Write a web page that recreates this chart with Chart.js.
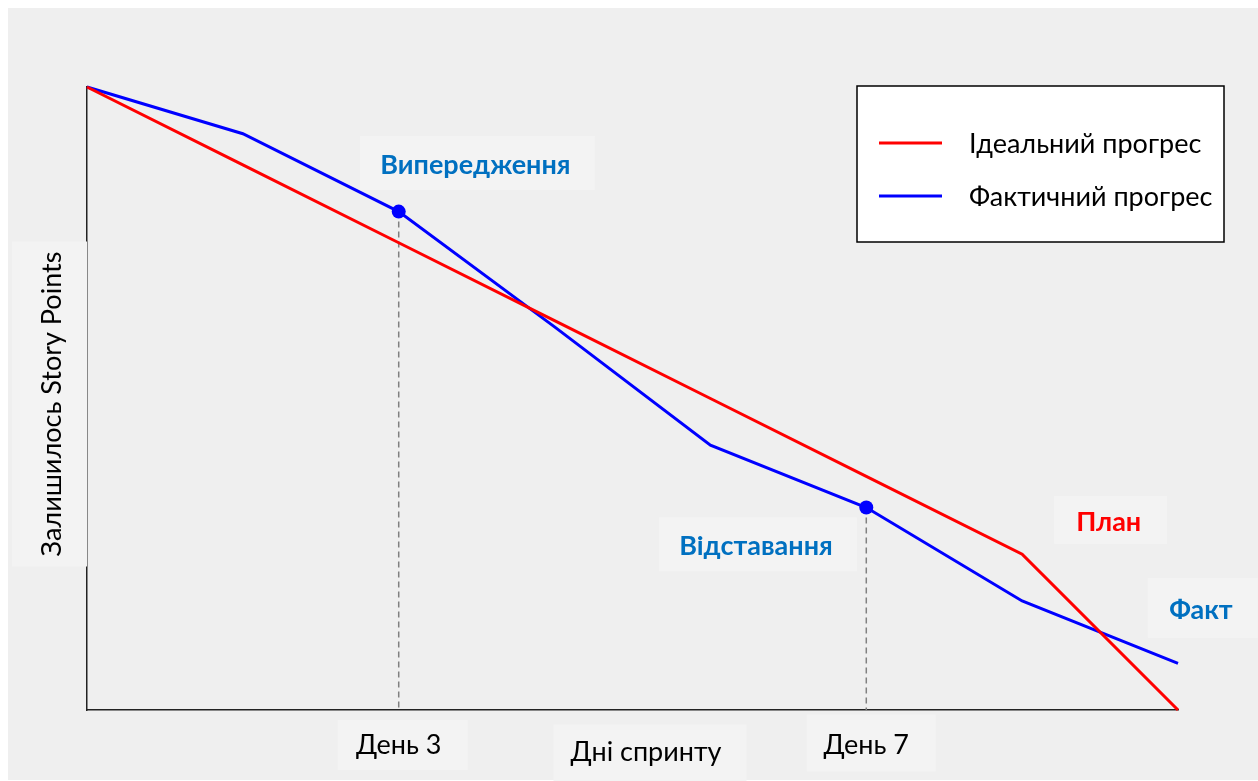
<!DOCTYPE html>
<html lang="uk">
<head>
<meta charset="utf-8">
<title>Burndown</title>
<script src="https://cdn.jsdelivr.net/npm/chart.js@4.4.1/dist/chart.umd.min.js"></script>
<style>
  html, body { margin: 0; padding: 0; background: #ffffff; }
  #wrap { width: 1258px; height: 781px; position: relative; }
</style>
</head>
<body>
<div id="wrap"><canvas id="burndown" width="1258" height="781"></canvas></div>
<script>
// Sprint days (only two of them carry a visible label)
const days = ['', '', 'День 3', '', '', 'День 7', '', ''];
// Remaining story points, in percent of the sprint scope
const idealRemaining  = [100, 87.5, 75, 62.5, 50, 37.5, 25, 0];
const actualRemaining = [100, 92.5, 80, 61.5, 42.5, 32.5, 17.5, 7.5];
const seriesNames = ['Ідеальний прогрес', 'Фактичний прогрес'];
// Days that get a marker and a drop line to the axis
const markedDays = [2, 5];

const FONT = 'Lato, "Open Sans", "DejaVu Sans", sans-serif';
const FS = 27;
const BG = '#efefef';
const BOX = '#f3f3f3';
const BLUE_TEXT = '#0070c0';

// Callouts anchored in data space (x = day index, y = points)
const callouts = [
  { text: 'Випередження', color: BLUE_TEXT, x: 2.505, y: 87.8, w: 235, h: 54 },
  { text: 'Відставання',  color: BLUE_TEXT, x: 4.305, y: 26.6, w: 198, h: 54 },
  { text: 'План',         color: '#ff0000', x: 6.568, y: 30.5, w: 113, h: 48 },
  { text: 'Факт',         color: BLUE_TEXT, x: 7.16,  y: 16.4, w: 110, h: 60 }
];

function fillBox(ctx, cx, cy, w, h) {
  ctx.fillStyle = BOX;
  ctx.fillRect(cx - w / 2, cy - h / 2, w, h);
}

const decor = {
  id: 'decor',
  beforeDraw(chart) {
    const { ctx } = chart;
    const x = chart.scales.x;
    ctx.save();
    ctx.fillStyle = '#ffffff';
    ctx.fillRect(0, 0, chart.width, chart.height);
    ctx.fillStyle = BG;
    ctx.fillRect(8, 8, chart.width - 8, chart.height - 9);
    // backdrops behind the day labels
    fillBox(ctx, x.getPixelForValue(2) + 4, 745, 130, 50);
    fillBox(ctx, x.getPixelForValue(5) + 5, 743, 129, 57);
    ctx.restore();
  },
  beforeDatasetsDraw(chart) {
    const { ctx, chartArea } = chart;
    const x = chart.scales.x, y = chart.scales.y;
    ctx.save();
    ctx.strokeStyle = '#808080';
    ctx.lineWidth = 1.5;
    ctx.setLineDash([6, 4]);
    markedDays.forEach(i => {
      const px = x.getPixelForValue(i);
      ctx.beginPath();
      ctx.moveTo(px, y.getPixelForValue(actualRemaining[i]));
      ctx.lineTo(px, chartArea.bottom);
      ctx.stroke();
    });
    ctx.restore();
  },
  afterDatasetsDraw(chart) {
    const { ctx } = chart;
    const x = chart.scales.x, y = chart.scales.y;
    ctx.save();
    ctx.font = 'bold ' + FS + 'px ' + FONT;
    ctx.textAlign = 'center';
    ctx.textBaseline = 'middle';
    callouts.forEach(c => {
      const cx = x.getPixelForValue(c.x), cy = y.getPixelForValue(c.y);
      fillBox(ctx, cx, cy, c.w, c.h);
      ctx.fillStyle = c.color;
      ctx.fillText(c.text, cx - 2, cy + 2);
    });
    ctx.restore();
  },
  afterDraw(chart) {
    const { ctx } = chart;
    ctx.save();
    // y axis title with its backdrop (covers part of the axis line)
    const ty = 404;
    fillBox(ctx, 49.5, ty, 75, 325);
    ctx.translate(52, ty);
    ctx.rotate(-Math.PI / 2);
    ctx.font = FS + 'px ' + FONT;
    ctx.fillStyle = '#000000';
    ctx.textAlign = 'center';
    ctx.textBaseline = 'middle';
    ctx.fillText('Залишилось Story Points', 0, 0);
    ctx.setTransform(1, 0, 0, 1, 0, 0);

    // x axis title
    fillBox(ctx, 650, 753, 193, 57);
    ctx.fillStyle = '#000000';
    ctx.fillText('Дні спринту', 646, 752);

    // legend
    const lx = 857, ly = 86, lw = 367, lh = 156;
    ctx.fillStyle = '#ffffff';
    ctx.fillRect(lx, ly, lw, lh);
    ctx.strokeStyle = '#000000';
    ctx.lineWidth = 1.5;
    ctx.strokeRect(lx, ly, lw, lh);
    ctx.textAlign = 'left';
    chart.data.datasets.forEach((ds, i) => {
      const rowY = 143 + i * 53;
      ctx.strokeStyle = ds.borderColor;
      ctx.lineWidth = 3;
      ctx.beginPath();
      ctx.moveTo(879, rowY);
      ctx.lineTo(942, rowY);
      ctx.stroke();
      ctx.fillStyle = '#000000';
      ctx.fillText(ds.label, 969, rowY + 1);
    });
    ctx.restore();
  }
};

new Chart(document.getElementById('burndown'), {
  type: 'line',
  data: {
    labels: days,
    datasets: [
      {
        label: seriesNames[0],
        data: idealRemaining,
        borderColor: '#ff0000',
        borderWidth: 3,
        pointRadius: 0,
        tension: 0,
        clip: false
      },
      {
        label: seriesNames[1],
        data: actualRemaining,
        borderColor: '#0000ff',
        backgroundColor: '#0000ff',
        borderWidth: 3,
        pointRadius: actualRemaining.map((_, i) => markedDays.includes(i) ? 7 : 0),
        pointBorderWidth: 0,
        tension: 0,
        clip: false
      }
    ]
  },
  options: {
    responsive: false,
    animation: false,
    events: [],
    layout: { padding: { left: 87, top: 87, right: 80, bottom: 0 } },
    plugins: { legend: { display: false }, tooltip: { enabled: false } },
    scales: {
      x: {
        type: 'category',
        offset: false,
        grid: { display: false, drawTicks: false },
        border: { display: true, color: '#222222', width: 1.5 },
        afterFit(scale) { scale.height = 71; },
        ticks: {
          autoSkip: false,
          maxRotation: 0,
          padding: 19,
          color: '#000000',
          font: { family: FONT, size: FS }
        }
      },
      y: {
        min: 0,
        max: 100,
        grid: { display: false, drawTicks: false },
        border: { display: true, color: '#222222', width: 1.5 },
        afterFit(scale) { scale.width = 0; },
        ticks: { display: false }
      }
    }
  },
  plugins: [decor]
});
</script>
</body>
</html>
